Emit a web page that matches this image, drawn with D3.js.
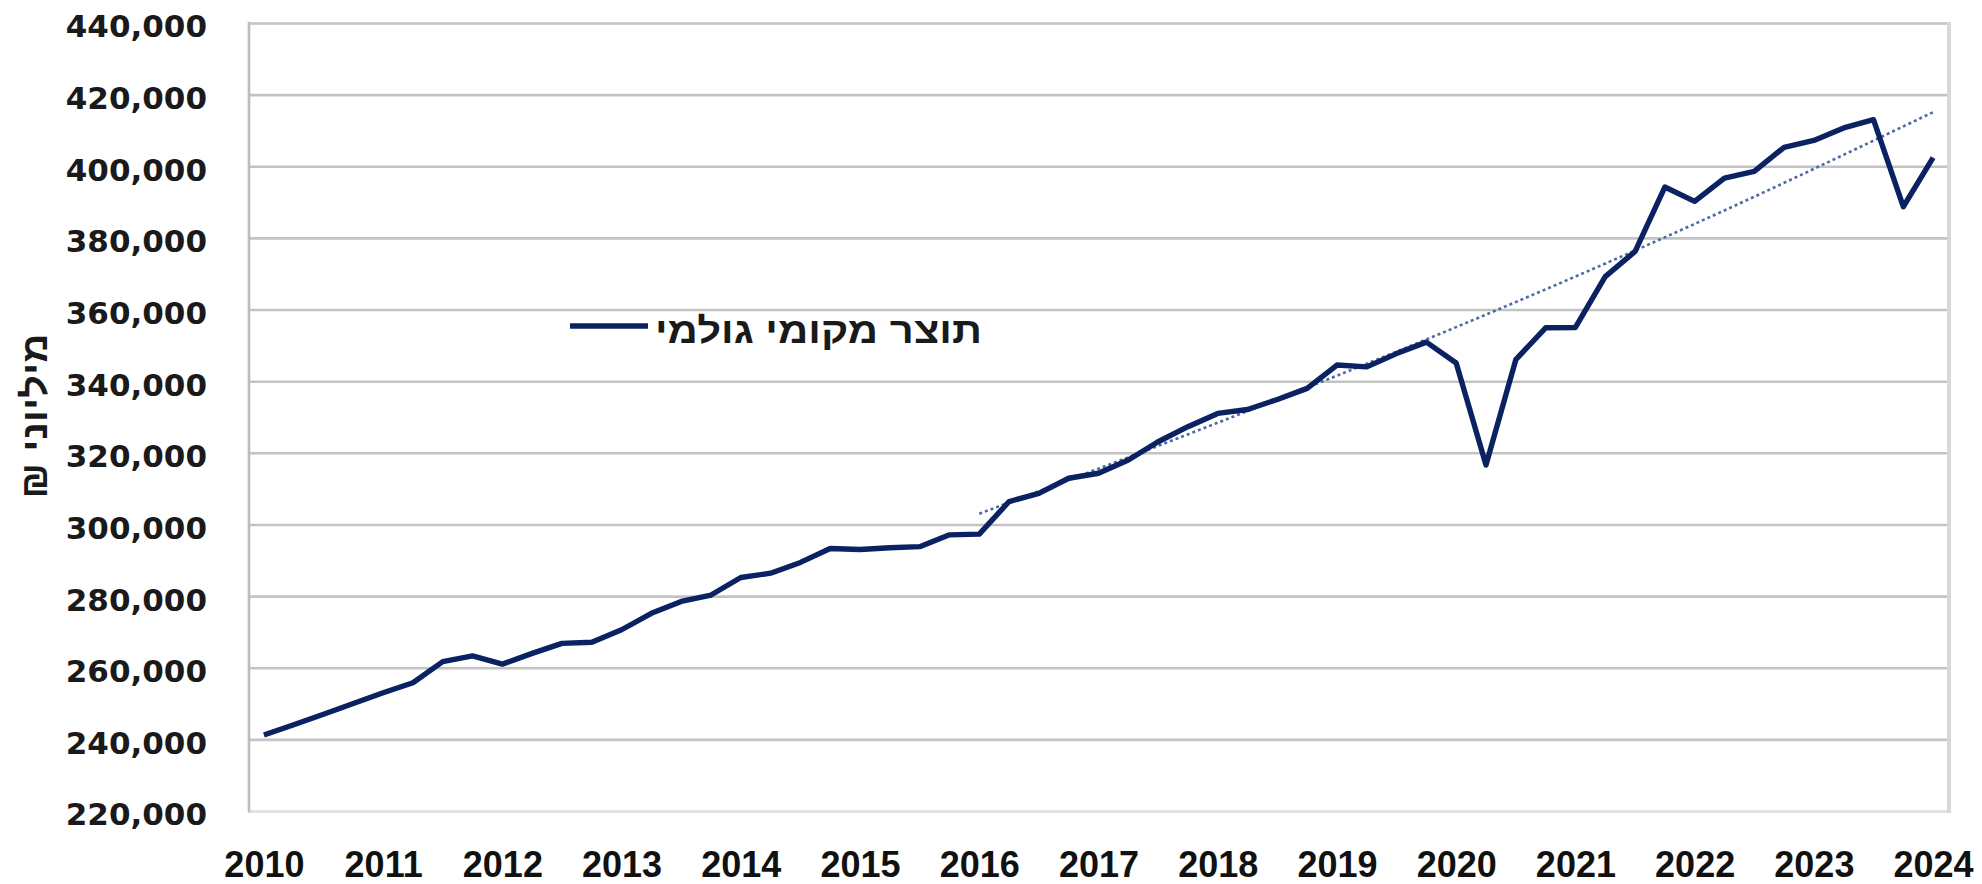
<!DOCTYPE html>
<html><head><meta charset="utf-8">
<script src="https://cdn.jsdelivr.net/npm/d3@7/dist/d3.min.js"></script>
<style>html,body{margin:0;padding:0;background:#fff;} svg{display:block;}</style>
</head><body><svg id="c" width="1982" height="884"></svg>
<script>
// ---- data ----
const quarters = [
 "2010Q1","2010Q2","2010Q3","2010Q4","2011Q1","2011Q2","2011Q3","2011Q4",
 "2012Q1","2012Q2","2012Q3","2012Q4","2013Q1","2013Q2","2013Q3","2013Q4",
 "2014Q1","2014Q2","2014Q3","2014Q4","2015Q1","2015Q2","2015Q3","2015Q4",
 "2016Q1","2016Q2","2016Q3","2016Q4","2017Q1","2017Q2","2017Q3","2017Q4",
 "2018Q1","2018Q2","2018Q3","2018Q4","2019Q1","2019Q2","2019Q3","2019Q4",
 "2020Q1","2020Q2","2020Q3","2020Q4","2021Q1","2021Q2","2021Q3","2021Q4",
 "2022Q1","2022Q2","2022Q3","2022Q4","2023Q1","2023Q2","2023Q3","2023Q4",
 "2024Q1"];
const gdp = [
 241200,244100,247000,250000,253000,255800,261700,263300,
 261000,264000,266800,267100,270600,275200,278500,280300,
 285200,286400,289400,293300,293000,293500,293800,297100,
 297300,306400,308700,312900,314300,318000,323100,327300,
 331000,332100,334900,338000,344500,344000,347700,350900,
 345100,316600,346000,354900,355000,369200,376200,394200,
 390200,396700,398600,405300,407200,410700,413000,388700,
 402400];
const trendQuarters = ["2016Q1","2018Q1","2020Q1","2022Q1","2024Q1"];
const trendValues = [303000, 328400, 355100, 383900, 415100];
const yTicks = [220000,240000,260000,280000,300000,320000,340000,360000,380000,400000,420000,440000];
const xTickQuarters = ["2010Q1","2011Q1","2012Q1","2013Q1","2014Q1","2015Q1","2016Q1","2017Q1","2018Q1","2019Q1","2020Q1","2021Q1","2022Q1","2023Q1","2024Q1"];
const xTickLabels = ["2010","2011","2012","2013","2014","2015","2016","2017","2018","2019","2020","2021","2022","2023","2024"];
const seriesName = "תוצר מקומי גולמי";
const yTitle = "מיליוני ₪";

// ---- layout ----
const L = 249, R = 1948, T = 23, B = 811;
const svg = d3.select("#c");
const x = d3.scalePoint().domain(quarters).range([L, R]).padding(0.5);
const y = d3.scaleLinear().domain([220000, 440000]).range([B, T]);

// gridlines
const grid = svg.append("g").attr("transform", `translate(${L},0)`)
  .call(d3.axisLeft(y).tickValues(yTicks).tickSize(-(R - L)).tickFormat(""));
grid.select(".domain").remove();
grid.selectAll(".tick line").attr("stroke", "#c3c3c3").attr("stroke-width", 2.6)
  .filter(d => d === 220000).attr("stroke", "#e2e2e2").attr("stroke-width", 3);

// borders
svg.append("line").attr("x1", R + 1).attr("x2", R + 1).attr("y1", T - 1).attr("y2", B + 2)
  .attr("stroke", "#d8d8d8").attr("stroke-width", 4);
svg.append("line").attr("x1", L).attr("x2", L).attr("y1", T - 1.3).attr("y2", B + 1.5)
  .attr("stroke", "#bdbdbd").attr("stroke-width", 2.6);

// y labels
const ya = svg.append("g").attr("transform", `translate(${L},0)`)
  .call(d3.axisLeft(y).tickValues(yTicks).tickSize(0).tickPadding(42).tickFormat(d3.format(",")));
ya.select(".domain").remove();
ya.selectAll("text").attr("font-family", "'DejaVu Sans', sans-serif").attr("font-weight", "bold")
  .attr("font-size", 31).attr("fill", "#1a1a1a").attr("dy", "0.45em");

// x labels
const xa = svg.append("g").attr("transform", `translate(0,${B})`)
  .call(d3.axisBottom(x).tickValues(xTickQuarters).tickSize(0)
    .tickFormat((d, i) => xTickLabels[i]));
xa.select(".domain").remove();
xa.selectAll("text").attr("font-family", "'Liberation Sans', Arial, sans-serif").attr("font-weight", "bold")
  .attr("font-size", 36).attr("fill", "#111").attr("y", 66).attr("dy", 0);

// trend (dotted)
svg.append("path").datum(trendQuarters.map((q, i) => [q, trendValues[i]]))
  .attr("fill", "none").attr("stroke", "#4d6aa3").attr("stroke-width", 2.6)
  .attr("stroke-dasharray", "3,3")
  .attr("d", d3.line().x(d => x(d[0])).y(d => y(d[1])).curve(d3.curveMonotoneX));

// main line
svg.append("path").datum(quarters.map((q, i) => [q, gdp[i]]))
  .attr("fill", "none").attr("stroke", "#0b2262").attr("stroke-width", 5.4)
  .attr("stroke-linejoin", "round")
  .attr("d", d3.line().x(d => x(d[0])).y(d => y(d[1])));

// legend
svg.append("line").attr("x1", 570).attr("x2", 648).attr("y1", 326).attr("y2", 326)
  .attr("stroke", "#0b2262").attr("stroke-width", 5.5);
svg.append("text").attr("x", 982).attr("y", 343).attr("text-anchor", "end")
  .attr("font-family", "'Liberation Sans', Arial, sans-serif").attr("font-weight", "bold")
  .attr("font-size", 36).attr("fill", "#1a1a1a")
  .attr("textLength", 327).attr("lengthAdjust", "spacingAndGlyphs")
  .text(seriesName);

// y title
svg.append("text").attr("transform", "translate(47,416) rotate(-90)")
  .attr("text-anchor", "middle").attr("direction", "rtl").attr("unicode-bidi", "embed")
  .attr("font-family", "'Liberation Sans', Arial, sans-serif").attr("font-weight", "bold")
  .attr("font-size", 36).attr("fill", "#1a1a1a")
  .attr("textLength", 165).attr("lengthAdjust", "spacingAndGlyphs")
  .text(yTitle);
</script>
</body></html>
